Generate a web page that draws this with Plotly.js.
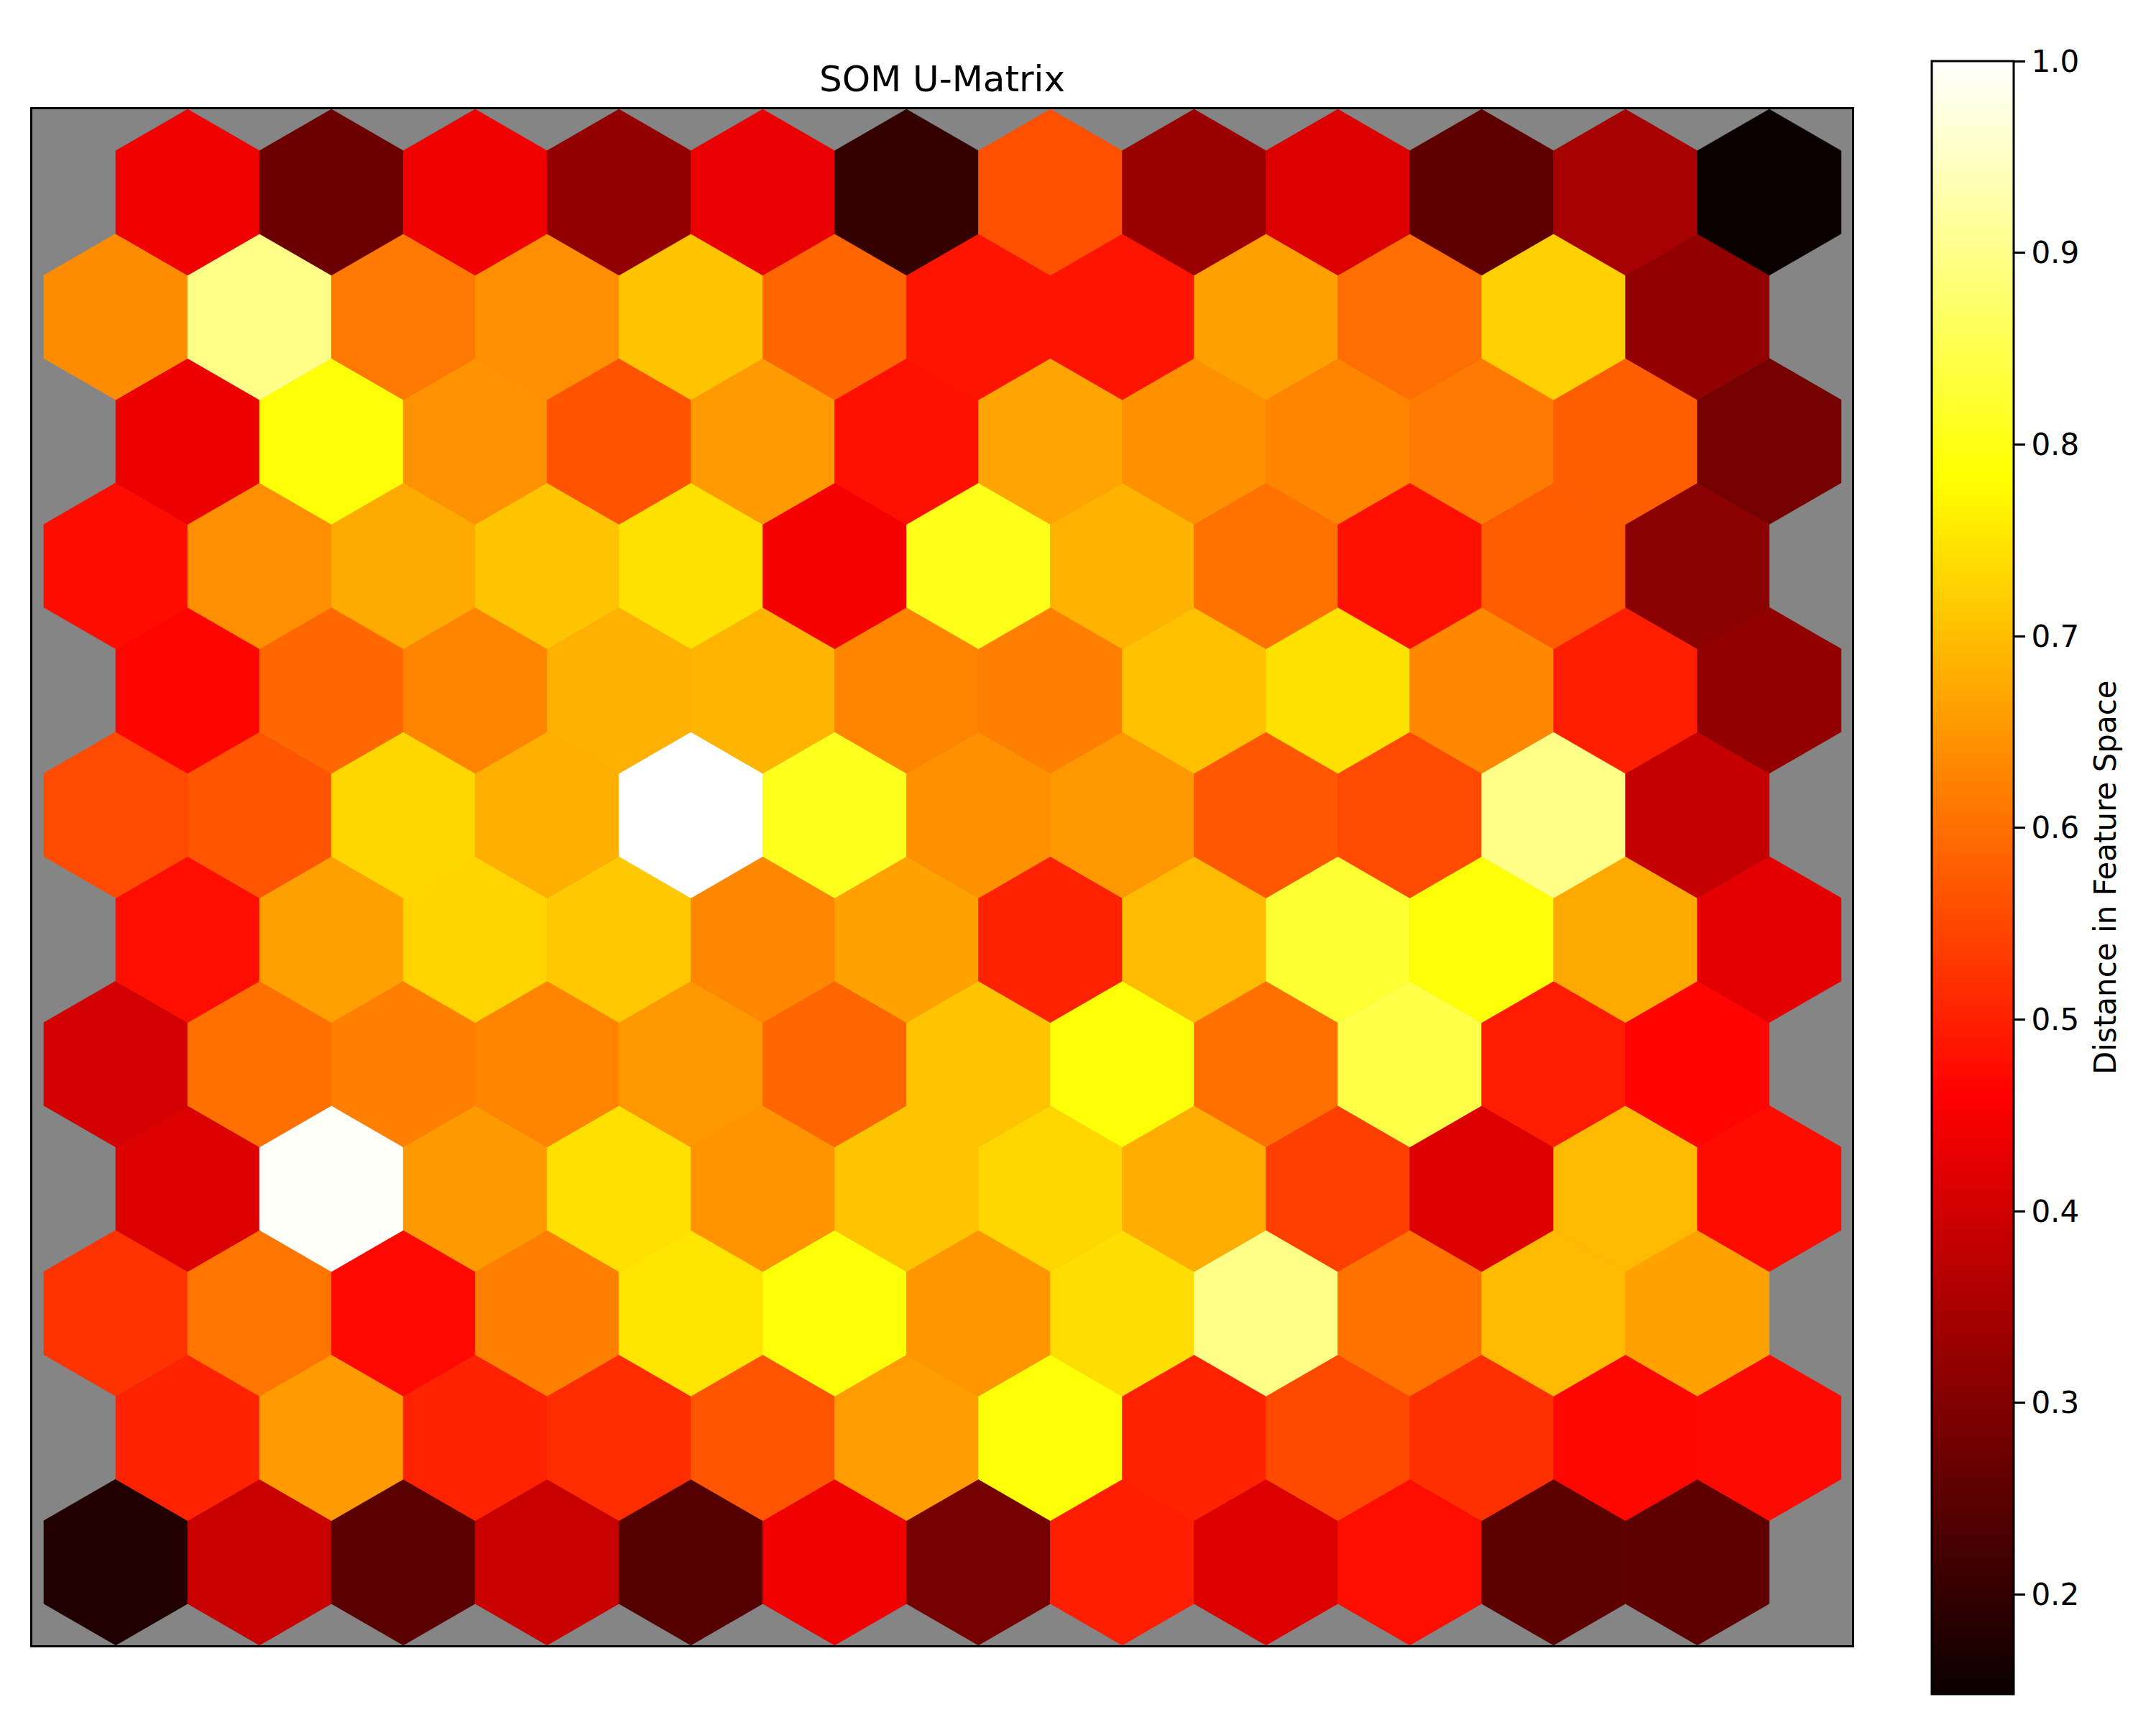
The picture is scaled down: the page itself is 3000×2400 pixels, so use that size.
<!DOCTYPE html>
<html>
<head>
<meta charset="utf-8">
<script src="https://cdn.plot.ly/plotly-3.0.1.min.js"></script>
<style>html,body{margin:0;padding:0;background:#fff;}</style>
</head>
<body>
<div id="chart" style="width:3000px;height:2400px;"></div>
<script>
// U-matrix values, one array per SOM row (row 0 = bottom row, 12 units each)
const row00 = [0.175, 0.389, 0.249, 0.389, 0.241, 0.440, 0.282, 0.497, 0.414, 0.477, 0.252, 0.254];
const row01 = [0.502, 0.655, 0.502, 0.515, 0.567, 0.658, 0.790, 0.502, 0.551, 0.520, 0.467, 0.472];
const row02 = [0.524, 0.608, 0.469, 0.622, 0.749, 0.790, 0.650, 0.740, 0.899, 0.604, 0.694, 0.665];
const row03 = [0.416, 0.995, 0.654, 0.744, 0.647, 0.708, 0.732, 0.679, 0.539, 0.416, 0.694, 0.474];
const row04 = [0.402, 0.602, 0.622, 0.628, 0.652, 0.589, 0.708, 0.790, 0.602, 0.845, 0.495, 0.464];
const row05 = [0.477, 0.663, 0.729, 0.714, 0.631, 0.665, 0.502, 0.697, 0.825, 0.790, 0.673, 0.425];
const row06 = [0.553, 0.567, 0.733, 0.682, 1.000, 0.809, 0.642, 0.651, 0.571, 0.553, 0.899, 0.384];
const row07 = [0.465, 0.591, 0.627, 0.683, 0.689, 0.628, 0.622, 0.703, 0.745, 0.632, 0.497, 0.320];
const row08 = [0.474, 0.640, 0.675, 0.708, 0.745, 0.449, 0.806, 0.686, 0.604, 0.480, 0.576, 0.311];
const row09 = [0.435, 0.790, 0.645, 0.565, 0.656, 0.479, 0.668, 0.642, 0.628, 0.614, 0.579, 0.282];
const row10 = [0.637, 0.899, 0.612, 0.641, 0.708, 0.589, 0.484, 0.484, 0.663, 0.599, 0.724, 0.320];
const row11 = [0.440, 0.272, 0.440, 0.322, 0.432, 0.202, 0.561, 0.330, 0.414, 0.254, 0.346, 0.148];
const somRows = [row00, row01, row02, row03, row04, row05, row06, row07, row08, row09, row10, row11];

const colorMin = 0.148;
const colorMax = 1.0;
const colorTicks = [0.2, 0.3, 0.4, 0.5, 0.6, 0.7, 0.8, 0.9, 1.0];
const colorTickText = ['0.2', '0.3', '0.4', '0.5', '0.6', '0.7', '0.8', '0.9', '1.0'];
const colorbarLabel = 'Distance in Feature Space';
const chartTitle = 'SOM U-Matrix';

// matplotlib "hot" colormap
const hotScale = [
  [0, 'rgb(11,0,0)'],
  [0.365079, 'rgb(255,0,0)'],
  [0.746032, 'rgb(255,255,0)'],
  [1, 'rgb(255,255,255)']
];
function hotColor(v) {
  let t = (v - colorMin) / (colorMax - colorMin);
  t = Math.max(0, Math.min(1, t));
  const a = 0.365079, b = 0.746032;
  const r = t < a ? 0.0416 + (1 - 0.0416) * t / a : 1;
  const g = t < a ? 0 : (t < b ? (t - a) / (b - a) : 1);
  const bl = t < b ? 0 : (t - b) / (1 - b);
  return 'rgb(' + Math.round(r * 255) + ',' + Math.round(g * 255) + ',' + Math.round(bl * 255) + ')';
}

const FONT = 'DejaVu Sans, Liberation Sans, sans-serif';
const R = 1 / Math.sqrt(3);
const traces = [];
const cx = [], cy = [], cv = [];
somRows.forEach((vals, r) => {
  vals.forEach((v, c) => {
    const x0 = c + 0.5 * (r % 2);
    const y0 = r * Math.sqrt(3) / 2;
    cx.push(x0); cy.push(y0); cv.push(v);
    const xs = [], ys = [];
    for (let k = 0; k <= 6; k++) {
      const ang = Math.PI / 2 + k * Math.PI / 3;
      xs.push(x0 + R * Math.cos(ang));
      ys.push(y0 + R * Math.sin(ang));
    }
    const col = hotColor(v);
    traces.push({
      type: 'scatter', mode: 'lines', x: xs, y: ys,
      fill: 'toself', fillcolor: col,
      line: {color: col, width: 0.6},
      hoverinfo: 'skip', showlegend: false
    });
  });
});

// plot area in pixels: x 45..2577, y 152..2289
const PL = 45, PW = 2532, PB = 2289, PH = 2137;
traces.push({
  type: 'scatter', mode: 'markers', x: cx, y: cy,
  showlegend: false, hoverinfo: 'skip',
  marker: {
    size: 1, opacity: 0, color: cv,
    colorscale: hotScale, cmin: colorMin, cmax: colorMax, showscale: true,
    colorbar: {
      thickness: 114, thicknessmode: 'pixels',
      len: 2272, lenmode: 'pixels',
      x: (2688 - PL) / PW, xref: 'paper', xanchor: 'left', xpad: 0,
      y: (PB - 85) / PH, yref: 'paper', yanchor: 'top', ypad: 0,
      outlinewidth: 3, outlinecolor: 'black',
      tickmode: 'array', tickvals: colorTicks, ticktext: colorTickText,
      ticks: 'outside', ticklen: 15, tickwidth: 3, tickcolor: 'black',
      tickfont: {size: 42, family: FONT, color: 'black'}
    }
  }
});

const layout = {
  width: 3000, height: 2400,
  margin: {l: 45, r: 423, t: 152, b: 111, pad: 0},
  paper_bgcolor: 'white', plot_bgcolor: '#858585',
  font: {family: FONT, color: 'black'},
  title: {text: chartTitle, font: {size: 50, family: FONT, color: 'black'},
          x: 0.5, xref: 'paper', xanchor: 'center', y: 1 - 109 / 2400, yref: 'container', yanchor: 'middle'},
  xaxis: {range: [-0.5798, 12.0757], showgrid: false, zeroline: false, showticklabels: false, ticks: '',
          showline: true, mirror: true, linecolor: 'black', linewidth: 3, fixedrange: true},
  yaxis: {range: [-R, 11 * Math.sqrt(3) / 2 + R], showgrid: false, zeroline: false, showticklabels: false, ticks: '',
          showline: true, mirror: true, linecolor: 'black', linewidth: 3, fixedrange: true},
  annotations: [{
    text: colorbarLabel, textangle: -90, showarrow: false,
    xref: 'paper', yref: 'paper', x: (2930 - PL) / PW, y: (PB - 1221) / PH,
    xanchor: 'center', yanchor: 'middle',
    font: {size: 42, family: FONT, color: 'black'}
  }],
  showlegend: false
};

Plotly.newPlot('chart', traces, layout, {displayModeBar: false, staticPlot: true});
</script>
</body>
</html>
